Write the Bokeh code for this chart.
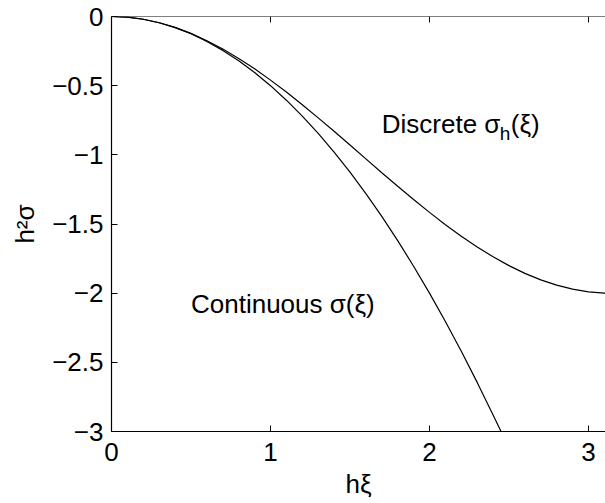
from bokeh.plotting import figure
from bokeh.models import Range1d, FixedTicker, Span
from bokeh.core.properties import value
from bokeh.embed import file_html
from bokeh.resources import INLINE

# values
x_disc = [0.0, 0.1, 0.2, 0.3, 0.4, 0.5, 0.6, 0.7, 0.8, 0.9, 1.0, 1.1, 1.2, 1.3, 1.4, 1.5,
          1.6, 1.7, 1.8, 1.9, 2.0, 2.1, 2.2, 2.3, 2.4, 2.5, 2.6, 2.7, 2.8, 2.9, 3.0, 3.1, 3.14]
y_disc = [0.0, -0.005, -0.020, -0.045, -0.079, -0.122, -0.175, -0.235, -0.303, -0.378,
          -0.460, -0.546, -0.638, -0.733, -0.830, -0.929, -1.029, -1.129, -1.227, -1.323,
          -1.416, -1.505, -1.589, -1.666, -1.737, -1.801, -1.857, -1.904, -1.942, -1.971,
          -1.990, -1.999, -2.000]
x_cont = [0.0, 0.1, 0.2, 0.3, 0.4, 0.5, 0.6, 0.7, 0.8, 0.9, 1.0, 1.1, 1.2, 1.3, 1.4, 1.5,
          1.6, 1.7, 1.8, 1.9, 2.0, 2.1, 2.2, 2.3, 2.4, 2.45]
y_cont = [0.0, -0.005, -0.020, -0.045, -0.080, -0.125, -0.180, -0.245, -0.320, -0.405,
          -0.500, -0.605, -0.720, -0.845, -0.980, -1.125, -1.280, -1.445, -1.620, -1.805,
          -2.000, -2.205, -2.420, -2.645, -2.880, -3.000]
x_ticks = [0, 1, 2, 3]
x_tick_labels = ["0", "1", "2", "3"]
y_ticks = [0, -0.5, -1, -1.5, -2, -2.5, -3]
y_tick_labels = ["0", "\u22120.5", "\u22121", "\u22121.5", "\u22122", "\u22122.5", "\u22123"]

FONT = "Liberation Sans"
FS = "26px"

p = figure(width=605, height=503, output_backend="svg", toolbar_location=None,
           x_range=Range1d(0, 3.107), y_range=Range1d(-3, 0),
           min_border_left=111, min_border_right=0, min_border_top=16, min_border_bottom=72)
p.outline_line_color = None
p.grid.visible = False
p.background_fill_color = "white"
p.border_fill_color = "white"

p.line(x_disc, y_disc, line_color="black", line_width=1.2)
p.line(x_cont, y_cont, line_color="black", line_width=1.2)

p.xaxis.ticker = FixedTicker(ticks=x_ticks)
p.xaxis.major_label_overrides = {t: l for t, l in zip(x_ticks, x_tick_labels)}
p.yaxis.ticker = FixedTicker(ticks=y_ticks)
p.yaxis.major_label_overrides = {t: l for t, l in zip(y_ticks, y_tick_labels)}

for ax in (p.xaxis[0], p.yaxis[0]):
    ax.major_tick_in = 6
    ax.major_tick_out = 0
    ax.minor_tick_line_color = None
    ax.axis_line_color = "black"
    ax.axis_line_width = 1.2
    ax.major_tick_line_color = "black"
    ax.major_label_text_font = FONT
    ax.major_label_text_font_size = FS
    ax.major_label_text_color = "black"
    ax.axis_label_text_font = FONT
    ax.axis_label_text_font_size = FS
    ax.axis_label_text_font_style = "normal"
    ax.axis_label_text_color = "black"

p.xaxis.axis_label = "h\u03be"
p.xaxis.major_label_standoff = 11
p.xaxis.axis_label_standoff = 5
p.yaxis.axis_label = "h\u00b2\u03c3"
p.yaxis.major_label_standoff = 8
p.yaxis.axis_label_standoff = 9

# top border line with inward ticks
p.add_layout(Span(location=0, dimension="width", line_color="black", line_width=1.2))
p.segment(x0=x_ticks, y0=[0] * len(x_ticks), x1=x_ticks, y1=[-0.043] * len(x_ticks),
          line_color="black", line_width=1)

# annotations
p.text(x=[0.5], y=[-2.08], text=["Continuous \u03c3(\u03be)"], text_font=value(FONT),
       text_font_size=FS, text_color="black", text_baseline="alphabetic", text_align="left")
p.text(x=[1.70], y=[-0.778], text=["Discrete \u03c3"], text_font=value(FONT),
       text_font_size=FS, text_color="black", text_baseline="alphabetic", text_align="left")
p.text(x=[1.70], y=[-0.778], text=["h"], x_offset=118, y_offset=9, text_font=value(FONT),
       text_font_size="19px", text_color="black", text_baseline="alphabetic", text_align="left")
p.text(x=[1.70], y=[-0.778], text=["(\u03be)"], x_offset=129, text_font=value(FONT),
       text_font_size=FS, text_color="black", text_baseline="alphabetic", text_align="left")

open("out.html", "w").write(file_html(p, INLINE))
